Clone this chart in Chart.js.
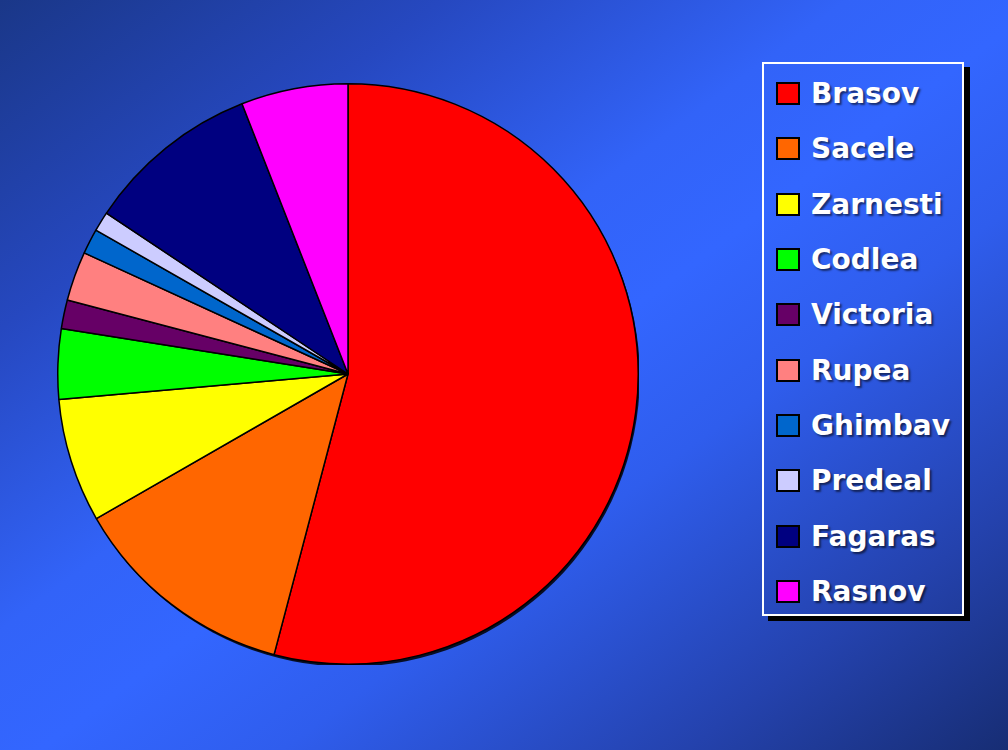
<!DOCTYPE html>
<html>
<head>
<meta charset="utf-8">
<script src="https://cdn.jsdelivr.net/npm/chart.js@4.4.1/dist/chart.umd.min.js"></script>
<style>
    html, body { margin: 0; padding: 0; }
    body {
        width: 1008px; height: 750px; overflow: hidden; position: relative;
        background: linear-gradient(to bottom right, #1a3788 0%, #2648c0 22%, #3263f8 42%, #3366ff 52%, #2f5ded 64%, #2442ad 84%, #172d74 100%);
    }
    #pieBox { position: absolute; left: 57px; top: 83px; width: 582px; height: 582px; }
    #legend {
        position: absolute; left: 762px; top: 62px; width: 202px; height: 554px;
        border: 2px solid #ffffff; box-shadow: 6px 5px 0 #000000; box-sizing: border-box;
        list-style: none; margin: 0; padding: 2px 0 0 0;
    }
    #legend li {
        height: 55.3px; display: flex; align-items: center; padding-left: 12px;
        font-family: "DejaVu Sans", sans-serif; font-weight: bold; font-size: 28px; color: #ffffff;
        text-shadow: 2px 2px 2px rgba(0,0,0,0.55);
    }
    #legend li span {
        display: inline-block; width: 20px; height: 19px; border: 2px solid #000000;
        margin-right: 11px; flex: none;
    }
</style>
</head>
<body>
<div id="pieBox"><canvas id="pieChart"></canvas></div>
<ul id="legend"></ul>
<script>
// Data (share of total, %)
const towns = ["Brasov", "Sacele", "Zarnesti", "Codlea", "Victoria", "Rupea", "Ghimbav", "Predeal", "Fagaras", "Rasnov"];
const shares = [54.1, 12.6, 6.9, 3.9, 1.6, 2.75, 1.4, 1.1, 9.7, 5.95];
const sliceColors = ["#ff0000", "#ff6600", "#ffff00", "#00ff00", "#660066", "#ff8080", "#0066cc", "#ccccff", "#000080", "#ff00ff"];

document.addEventListener("DOMContentLoaded", function () {
    const ctx = document.getElementById("pieChart").getContext("2d");

    // soft drop shadow under the pie
    const pieShadow = {
        id: "pieShadow",
        beforeDatasetsDraw(chart) {
            const arc = chart.getDatasetMeta(0).data[0];
            if (!arc) return;
            const c = chart.ctx;
            c.save();
            c.fillStyle = "rgba(0,0,0,0.85)";
            c.beginPath();
            c.arc(arc.x + 1.5, arc.y + 2.5, arc.outerRadius, 0, Math.PI * 2);
            c.fill();
            c.restore();
        }
    };

    new Chart(ctx, {
        type: "pie",
        data: {
            labels: towns,
            datasets: [{
                data: shares,
                backgroundColor: sliceColors,
                borderColor: "#000000",
                borderWidth: 1.5,
                hoverOffset: 0
            }]
        },
        options: {
            responsive: true,
            maintainAspectRatio: false,
            animation: false,
            layout: { padding: 0 },
            plugins: {
                legend: { display: false },
                tooltip: { enabled: false }
            }
        },
        plugins: [pieShadow]
    });

    // Legend built from the same arrays
    const legend = document.getElementById("legend");
    towns.forEach((name, i) => {
        const li = document.createElement("li");
        const sw = document.createElement("span");
        sw.style.background = sliceColors[i];
        li.appendChild(sw);
        li.appendChild(document.createTextNode(name));
        legend.appendChild(li);
    });
});
</script>
</body>
</html>
